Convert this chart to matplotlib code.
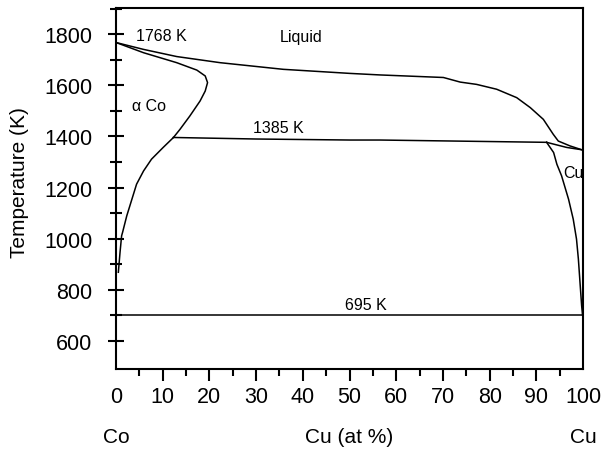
import numpy as np
import matplotlib.pyplot as plt
from matplotlib.ticker import FixedLocator

plt.rcParams['font.family'] = ['Liberation Sans', 'DejaVu Sans']

# 液相线 (liquidus), Co 端到 Cu 端
liq_x = [0, 5.9, 13.0, 22.3, 35.8, 50.1, 56.5, 70.1, 73.7, 77.2, 81.5, 85.8, 88.7, 91.5, 93.6, 94.7, 97.2, 99.7]
liq_t = [1768, 1741, 1713, 1689, 1663, 1647, 1641, 1631, 1613, 1604, 1585, 1552, 1513, 1467, 1409, 1382, 1363, 1348]

# αCo 固相线
sol_x = [0, 5.9, 13.0, 17.3, 19.1, 19.6, 19.1, 18.0, 15.8, 13.7, 12.3]
sol_t = [1768, 1728, 1689, 1660, 1637, 1611, 1578, 1539, 1480, 1428, 1396]

# αCo 溶解度线
solv_x = [12.3, 10.1, 7.6, 5.9, 4.4, 3.4, 2.3, 1.4, 1.2, 0.86, 0.5]
solv_t = [1396, 1357, 1311, 1265, 1213, 1154, 1089, 1024, 1011, 946, 868]

# 包晶线 1385 K
peri_x = [12.3, 30, 50.1, 56.5, 92.2]
peri_t = [1396, 1390, 1386, 1386, 1377]

# Cu 端固相线 + 溶解度线
cu_sol_x = [92.2, 96.5, 99.7]
cu_sol_t = [1377, 1357, 1348]
cu_solv_x = [92.2, 93.7, 94.4, 95.4, 96.9, 97.9, 98.6, 99.0, 99.4, 99.7, 99.9]
cu_solv_t = [1377, 1337, 1291, 1246, 1154, 1076, 998, 920, 815, 737, 700]

# 695 K 线
eut_x = [0, 100]
eut_t = [700, 700]

x_major = list(range(0, 101, 10))
x_minor = list(range(5, 100, 10))
y_major = list(range(600, 1801, 200))
y_minor = list(range(700, 1901, 200))

fig = plt.figure(figsize=(6.03, 4.52), dpi=100)
ax = fig.add_axes([0.1924, 0.1814, 0.7745, 0.798])

lw = 1.1
ax.plot(liq_x, liq_t, color='black', lw=lw)
ax.plot(sol_x, sol_t, color='black', lw=lw)
ax.plot(solv_x, solv_t, color='black', lw=lw)
ax.plot(peri_x, peri_t, color='black', lw=lw)
ax.plot(cu_sol_x, cu_sol_t, color='black', lw=lw)
ax.plot(cu_solv_x, cu_solv_t, color='black', lw=lw)
ax.plot(eut_x, eut_t, color='black', lw=lw)

ax.set_xlim(0, 100)
ax.set_ylim(489, 1902)

ax.xaxis.set_major_locator(FixedLocator(x_major))
ax.xaxis.set_minor_locator(FixedLocator(x_minor))
ax.yaxis.set_major_locator(FixedLocator(y_major))
ax.yaxis.set_minor_locator(FixedLocator(y_minor))

fsl = 15.5
ax.tick_params(axis='x', which='major', direction='out', length=8.4, width=1.5, pad=4, labelsize=fsl)
ax.tick_params(axis='x', which='minor', direction='out', length=5.3, width=1.5)
ax.tick_params(axis='y', which='major', direction='inout', length=12, width=1.5, pad=11, labelsize=fsl)
ax.tick_params(axis='y', which='minor', direction='inout', length=9, width=1.5)

# 0 和 100 处没有刻度线
xt = ax.xaxis.get_major_ticks()
xt[0].tick1line.set_visible(False)
xt[-1].tick1line.set_visible(False)

for s in ax.spines.values():
    s.set_linewidth(1.5)

ax.set_ylabel('Temperature (K)', fontsize=15)
ax.yaxis.set_label_coords(-0.186, 0.52)
ax.set_xlabel('Cu (at %)', fontsize=15, va='center')
ax.xaxis.set_label_coords(0.5, -0.186)

tr = ax.get_xaxis_transform()
ax.text(0, -0.186, 'Co', transform=tr, ha='center', va='center', fontsize=15)
ax.text(100, -0.186, 'Cu', transform=tr, ha='center', va='center', fontsize=15)

fs = 11.5
ax.text(4.2, 1797, '1768 K', ha='left', va='center', fontsize=fs)
ax.text(35.1, 1790, 'Liquid', ha='left', va='center', fontsize=fs)
ax.text(3.4, 1520, 'α Co', ha='left', va='center', fontsize=fs)
ax.text(29.3, 1437, '1385 K', ha='left', va='center', fontsize=fs)
ax.text(49.0, 743, '695 K', ha='left', va='center', fontsize=fs)
ax.text(95.7, 1260, 'Cu', ha='left', va='center', fontsize=fs)

plt.savefig('out.png', dpi=100)
